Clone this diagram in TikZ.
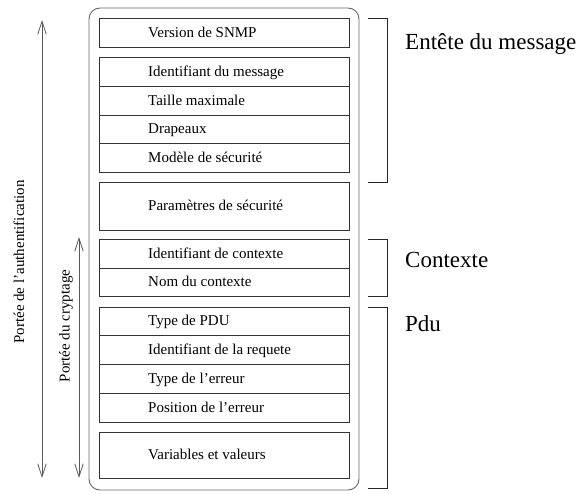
\documentclass[tikz,border=0pt]{standalone}
\usepackage{fontspec}
\setmainfont{Liberation Serif}
\usetikzlibrary{arrows.meta}
\begin{document}
\begin{tikzpicture}[x=1pt,y=-1pt,
  fieldbox/.style={draw=black!80,line width=0.9pt,minimum width=250pt,inner sep=0pt,anchor=north west},
  fieldtext/.style={anchor=base west,inner sep=0pt,font=\fontsize{15}{17}\selectfont},
  grouplabel/.style={anchor=base west,inner sep=0pt,font=\fontsize{23}{26}\selectfont},
  scopelabel/.style={rotate=90,inner sep=0pt,font=\fontsize{15}{17}\selectfont},
  frame/.style={draw=black!60,line width=0.9pt,rounded corners=11pt},
  bracket/.style={draw=black!85,line width=0.8pt},
  scopearrow/.style={draw=black!65,line width=0.8pt,{Straight Barb[length=13pt,width=8.5pt]}-{Straight Barb[length=13pt,width=8.5pt]}}]
\useasboundingbox (0,0) rectangle (579,494);

% outer message frame
\draw[frame] (89,8) rectangle (359,490);

% field boxes (top edge, height)
\node[fieldbox,minimum height=29pt]   (version) at (99,18)  {};
\node[fieldbox,minimum height=29pt]   (msgid)   at (99,57)  {};
\node[fieldbox,minimum height=29pt]   (maxsize) at (99,86)  {};
\node[fieldbox,minimum height=28pt]   (flags)   at (99,115) {};
\node[fieldbox,minimum height=29pt]   (secmod)  at (99,143) {};
\node[fieldbox,minimum height=48pt]   (secpar)  at (99,182) {};
\node[fieldbox,minimum height=29pt]   (ctxid)   at (99,239) {};
\node[fieldbox,minimum height=28pt]   (ctxname) at (99,268) {};
\node[fieldbox,minimum height=28pt]   (pdutype) at (99,307) {};
\node[fieldbox,minimum height=29pt]   (reqid)   at (99,335) {};
\node[fieldbox,minimum height=29pt]   (errtype) at (99,364) {};
\node[fieldbox,minimum height=29pt]   (errpos)  at (99,393) {};
\node[fieldbox,minimum height=46pt]   (varbind) at (99,432) {};

% field names
\node[fieldtext] (tversion) at (148,37.5)  {Version de SNMP};
\node[fieldtext] (tmsgid)   at (148,76.5)  {Identifiant du message};
\node[fieldtext] (tmaxsize) at (148,105.5) {Taille maximale};
\node[fieldtext] (tflags)   at (148,134)   {Drapeaux};
\node[fieldtext] (tsecmod)  at (148,162.5) {Modèle de sécurité};
\node[fieldtext] (tsecpar)  at (148,211)   {Paramètres de sécurité};
\node[fieldtext] (tctxid)   at (148,258.5) {Identifiant de contexte};
\node[fieldtext] (tctxname) at (148,287)   {Nom du contexte};
\node[fieldtext] (tpdutype) at (148,326)   {Type de PDU};
\node[fieldtext] (treqid)   at (148,354.5) {Identifiant de la requete};
\node[fieldtext] (terrtype) at (148,383.5) {Type de l’erreur};
\node[fieldtext] (terrpos)  at (148,412.5) {Position de l’erreur};
\node[fieldtext] (tvarbind) at (148,460)   {Variables et valeurs};

% brackets grouping the fields
\draw[bracket] (368,18)  -- (387,18)  -- (387,182) -- (368,182);
\draw[bracket] (368,239) -- (387,239) -- (387,296) -- (368,296);
\draw[bracket] (368,307) -- (387,307) -- (387,488) -- (368,488);

\node[grouplabel] (lheader)  at (405,50)  {Entête du message};
\node[grouplabel] (lcontext) at (405,268) {Contexte};
\node[grouplabel] (lpdu)     at (405,332) {Pdu};

% scope arrows
\coordinate (authtop) at (42,20);
\coordinate (authbot) at (42,478);
\coordinate (crypttop) at (79,237);
\coordinate (cryptbot) at (79,478);
\draw[scopearrow] (authtop) -- (authbot);
\draw[scopearrow] (crypttop) -- (cryptbot);

\node[scopelabel] (lauth)  at (19,262) {Portée de l’authentification};
\node[scopelabel] (lcrypt) at (66,326) {Portée du cryptage};
\end{tikzpicture}
\end{document}
